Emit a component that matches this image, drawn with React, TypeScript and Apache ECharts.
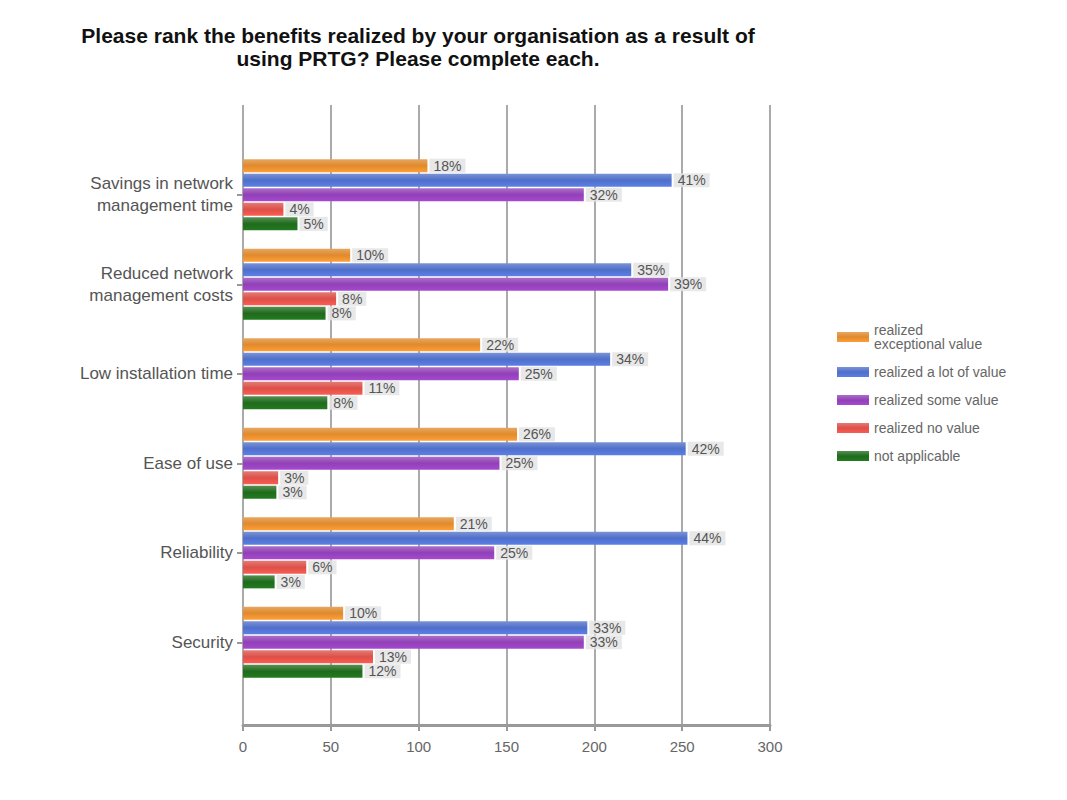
import React, { useEffect, useRef } from "react";
import * as echarts from "echarts";

const titleText =
  "Please rank the benefits realized by your organisation as a result of\nusing PRTG? Please complete each.";

const categories = [
  "Savings in network\nmanagement time",
  "Reduced network\nmanagement costs",
  "Low installation time",
  "Ease of use",
  "Reliability",
  "Security",
];

const seriesNames = [
  "realized\nexceptional value",
  "realized a lot of value",
  "realized some value",
  "realized no value",
  "not applicable",
];

const exceptionalValue = [105, 61, 135, 156, 120, 57];
const lotOfValue = [244, 221, 209, 252, 253, 196];
const someValue = [194, 242, 157, 146, 143, 194];
const noValue = [23, 53, 68, 20, 36, 74];
const notApplicable = [31, 47, 48, 19, 18, 68];

const seriesValues = [exceptionalValue, lotOfValue, someValue, noValue, notApplicable];
const colors = ["#e08a2e", "#4f6fc9", "#9140b6", "#dc5048", "#1f6b1c"];
const xTicks = { min: 0, max: 300, interval: 50 };

const rowTotals = categories.map((_, i) =>
  seriesValues.reduce((s, arr) => s + arr[i], 0)
);

const font = "'Liberation Sans', Arial, sans-serif";

export default function App() {
  const ref = useRef<HTMLDivElement>(null);
  useEffect(() => {
    if (!ref.current) return;
    const chart = echarts.init(ref.current, null, { renderer: "svg" });
    const series = seriesValues.map((vals, si) => ({
      type: "bar",
      name: seriesNames[si],
      xAxisIndex: 1,
      yAxisIndex: 1,
      data: vals,
      barWidth: 13,
      barGap: "12%",
      itemStyle: {
        color: new echarts.graphic.LinearGradient(0, 0, 0, 1, [
          { offset: 0, color: echarts.color.lift(colors[si], 0.25) },
          { offset: 0.5, color: colors[si] },
          { offset: 1, color: echarts.color.lift(colors[si], -0.15) },
        ]),
      },
      label: {
        show: true,
        position: "right",
        distance: 2,
        color: "#555",
        fontSize: 14,
        fontFamily: font,
        backgroundColor: "rgba(228,228,228,0.85)",
        padding: [0, 4],
        formatter: (p: any) =>
          Math.round((p.value / rowTotals[p.dataIndex]) * 100) + "%",
      },
    }));
    chart.setOption({
      animation: false,
      textStyle: { fontFamily: font },
      title: {
        text: titleText,
        left: 405,
        textAlign: "center",
        top: 11,
        textStyle: {
          fontSize: 21,
          fontWeight: "bold",
          color: "#111",
          lineHeight: 23,
          fontFamily: font,
        },
      },
      legend: {
        orient: "vertical",
        left: 824,
        top: 310,
        icon: "rect",
        itemWidth: 32,
        itemHeight: 10,
        itemGap: 14,
        textStyle: { fontSize: 14, color: "#666", lineHeight: 14, fontFamily: font },
        data: seriesNames,
      },
      grid: [
        { left: 235, right: 289, top: 97, bottom: 67 },
        { left: 235, right: 289, top: 142, bottom: 105 },
      ],
      xAxis: [
        {
          type: "value",
          gridIndex: 0,
          ...xTicks,
          axisLine: { show: true, lineStyle: { color: "#999", width: 3 } },
          axisTick: { show: true, length: 6, lineStyle: { color: "#999", width: 2 } },
          axisLabel: { color: "#666", fontSize: 15, margin: 14, fontFamily: font },
          splitLine: { show: true, lineStyle: { color: "#aaa", width: 2 } },
        },
        {
          type: "value",
          gridIndex: 1,
          ...xTicks,
          show: false,
          splitLine: { show: false },
        },
      ],
      yAxis: [
        { type: "value", gridIndex: 0, show: false, splitLine: { show: false } },
        {
          type: "category",
          gridIndex: 1,
          inverse: true,
          data: categories,
          axisLine: { show: false },
          axisTick: {
            show: true,
            alignWithLabel: true,
            length: 6,
            lineStyle: { color: "#999", width: 2 },
          },
          axisLabel: {
            color: "#555",
            fontSize: 17,
            margin: 10,
            lineHeight: 22,
            fontFamily: font,
          },
        },
      ],
      series,
    });
    return () => chart.dispose();
  }, []);
  return <div ref={ref} style={{ width: 1051, height: 784 }} />;
}
